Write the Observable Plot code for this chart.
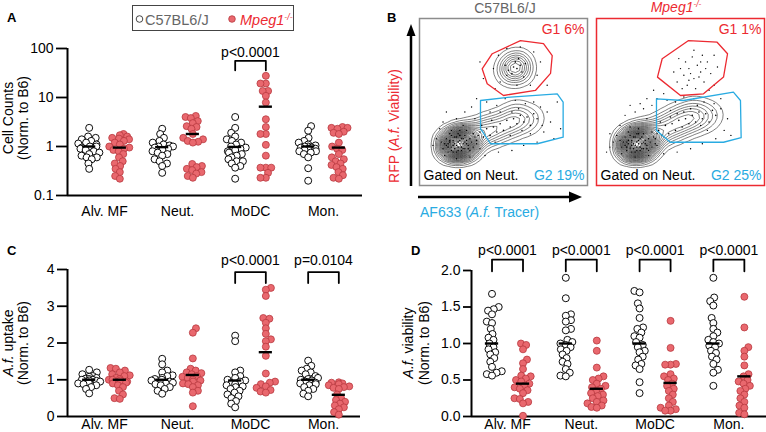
<!DOCTYPE html>
<html><head><meta charset="utf-8">
<script src="https://cdn.jsdelivr.net/npm/d3@7"></script>
<script src="https://cdn.jsdelivr.net/npm/@observablehq/plot@0.6"></script>
<style>
body{margin:0;background:#fff;}
#fig{position:relative;width:766px;height:432px;overflow:hidden;background:#fff;font-family:"Liberation Sans",Arial,Helvetica,sans-serif;}
#fig svg{position:absolute;overflow:visible;}
[aria-label="y-axis tick"]{stroke-width:1.8px;}
g[aria-label="y-axis"] .tick line{stroke-width:1.8px;}
</style></head>
<body><div id="fig"></div>
<script>
// ---------------- DATA ----------------
const cellTypes = ["Alv. MF", "Neut.", "MoDC", "Mon."];
const genotypes = ["C57BL6/J", "Mpeg1-/-"];

// Panel A: cell counts normalised to B6 (log scale)
const countsTicks = [0.1, 1, 10, 100];
const countsB6 = [
  [2.4,1.6,1.5,1.4,1.3,1.2,1.15,1.1,1.0,1.0,0.95,0.9,0.85,0.8,0.75,0.7,0.65,0.6,0.6,0.55,0.45,0.35],
  [2.3,1.8,1.5,1.3,1.2,1.1,1.05,1.0,1.0,0.95,0.9,0.85,0.8,0.75,0.7,0.65,0.55,0.5,0.45,0.4,0.29],
  [4.0,2.4,1.9,1.6,1.4,1.3,1.2,1.1,1.0,0.95,0.9,0.85,0.8,0.75,0.7,0.65,0.6,0.55,0.5,0.5,0.45,0.4,0.37,0.22],
  [2.6,2.1,1.5,1.3,1.2,1.1,1.05,1.0,1.0,0.95,0.95,0.9,0.9,0.85,0.8,0.8,0.75,0.7,0.6,0.36,0.2]
];
const countsMpeg = [
  [1.8,1.7,1.6,1.5,1.45,1.4,1.3,1.2,1.1,1.0,0.95,0.9,0.85,0.8,0.7,0.6,0.5,0.45,0.4,0.35,0.3,0.25,0.22],
  [4.2,4.0,3.8,3.3,3.0,2.6,2.5,2.3,1.8,1.5,1.4,1.3,1.25,1.2,0.44,0.4,0.38,0.35,0.33,0.3,0.28,0.25,0.23],
  [27.7,19.3,19.3,13.6,13.6,10.8,7.9,3.6,2.5,1.8,1.8,1.08,0.65,0.37,0.37,0.37,0.29,0.23,0.23],
  [2.5,2.4,2.4,2.3,2.0,1.9,1.8,1.2,1.0,0.9,0.85,0.7,0.6,0.55,0.5,0.45,0.42,0.38,0.35,0.3,0.26,0.23,0.22]
];
const countsMeanB6 = [1.0, 0.97, 0.98, 1.0];
const countsMeanMpeg = [0.95, 1.8, 6.5, 0.95];
const countsSigCats = [2];
const countsSigLabels = ["p<0.0001"];

// Panel C: A.f. uptake normalised to B6
const uptakeTicks = [0, 1, 2, 3, 4];
const uptakeB6 = [
  [1.27,1.2,1.15,1.1,1.08,1.05,1.03,1.02,1.0,1.0,0.98,0.97,0.95,0.93,0.9,0.88,0.85,0.8,0.75,0.63],
  [1.57,1.42,1.25,1.2,1.12,1.1,1.05,1.02,1.0,0.98,0.95,0.92,0.9,0.88,0.85,0.8,0.75,0.7,0.62],
  [2.2,2.05,1.25,1.2,1.1,1.05,1.0,0.98,0.95,0.9,0.88,0.85,0.82,0.8,0.75,0.7,0.65,0.6,0.55,0.5,0.42,0.35,0.25],
  [1.52,1.38,1.3,1.25,1.2,1.15,1.1,1.05,1.02,1.0,0.98,0.95,0.92,0.9,0.88,0.85,0.8,0.75,0.7,0.62,0.55]
];
const uptakeMpeg = [
  [1.32,1.3,1.25,1.2,1.15,1.12,1.1,1.05,1.02,1.0,1.0,0.98,0.95,0.92,0.9,0.85,0.8,0.7,0.6,0.5,0.48],
  [2.4,2.28,1.58,1.3,1.25,1.2,1.18,1.15,1.1,1.08,1.05,1.0,0.98,0.95,0.9,0.88,0.85,0.8,0.7,0.65,0.28],
  [3.5,3.45,3.28,2.68,2.66,2.55,2.4,2.25,2.1,2.05,1.9,1.65,1.17,0.95,0.92,0.88,0.82,0.78,0.72,0.68,0.65],
  [0.93,0.92,0.9,0.88,0.85,0.82,0.8,0.78,0.75,0.6,0.5,0.45,0.4,0.35,0.3,0.25,0.2,0.12,0.05]
];
const uptakeMeanB6 = [1.0, 1.0, 0.98, 1.0];
const uptakeMeanMpeg = [1.0, 1.13, 1.75, 0.59];
const uptakeSigCats = [2, 3];
const uptakeSigLabels = ["p<0.0001", "p=0.0104"];

// Panel D: A.f. viability normalised to B6
const viabTicks = [0, 0.5, 1, 1.5, 2];
const viabB6 = [
  [1.68,1.5,1.47,1.45,1.4,1.3,1.28,1.2,1.13,1.08,1.05,1.0,0.95,0.92,0.88,0.85,0.8,0.75,0.68,0.62,0.6,0.58,0.56],
  [1.9,1.62,1.4,1.38,1.32,1.3,1.2,1.18,1.05,1.02,1.0,0.98,0.95,0.92,0.9,0.85,0.8,0.75,0.72,0.65,0.6,0.56,0.55],
  [1.72,1.7,1.55,1.48,1.35,1.22,1.2,1.15,1.1,1.08,1.02,0.98,0.95,0.9,0.88,0.82,0.78,0.72,0.7,0.65,0.47,0.32],
  [1.9,1.63,1.58,1.52,1.35,1.28,1.2,1.15,1.1,1.05,1.02,1.0,0.97,0.95,0.9,0.87,0.82,0.78,0.72,0.64,0.6,0.42]
];
const viabMpeg = [
  [1.0,0.98,0.92,0.78,0.73,0.65,0.56,0.55,0.52,0.5,0.48,0.45,0.42,0.4,0.38,0.36,0.32,0.25,0.24,0.2,0.18,0.01],
  [1.04,0.9,0.67,0.55,0.52,0.5,0.45,0.42,0.4,0.38,0.35,0.32,0.3,0.28,0.25,0.22,0.2,0.18,0.15,0.13,0.12],
  [1.31,0.94,0.72,0.71,0.71,0.58,0.55,0.52,0.5,0.45,0.42,0.38,0.35,0.3,0.25,0.2,0.15,0.12,0.1,0.08,0.08],
  [1.64,1.22,0.95,0.9,0.82,0.7,0.58,0.55,0.5,0.48,0.45,0.42,0.38,0.35,0.3,0.25,0.2,0.15,0.12,0.05,0.03]
];
const viabMeanB6 = [1.0, 1.0, 1.0, 1.0];
const viabMeanMpeg = [0.45, 0.38, 0.46, 0.55];
const viabSigCats = [0, 1, 2, 3];
const viabSigLabels = ["p<0.0001", "p<0.0001", "p<0.0001", "p<0.0001"];

// Panel B: flow events (AF633 %, RFP %, event count)
const flowB6Main = [
  [20,24,9],[23,26,9],[21,22,8],[25,23,8],[18,26,6],[26,28,6],[28,25,6],[24,30,4],[17,23,5],[30,28,4],[32,31,3],[29,22,4],
  [34,27,2],[36,32,2],[38,29,2],[40,34,2],[42,30,2],[44,35,2],[46,32,2],[48,37,2],[50,33,2],[37,36,1],[43,39,1],
  [52,39,2],[54,35,2],[56,40,2],[58,37,2],[60,42,1],[62,38,2],[64,41,1],[66,36,1],[68,43,1],[59,46,1],[55,44,1],[70,40,1],
  [53,69,2],[56,71,3],[58,70,3],[60,72,2],[57,74,2],[55,67,2],[61,68,1],[51,72,1],[59,76,1],[63,73,1],[62,65,1],[52,66,1]
];
const flowB6Specks = [
  [12,34],[10,28],[14,38],[16,44],[22,40],[27,44],[31,47],[34,52],[40,50],[46,48],[51,52],[57,51],[63,49],[68,50],
  [72,47],[76,44],[78,38],[74,32],[70,26],[62,24],[55,21],[47,20],[39,18],[30,17],[22,16],[15,18],[8,24],[42,44],
  [48,44],[66,31],[73,36],[80,28],[45,58],[48,62],[44,70],[47,78],[52,82],[60,83],[68,80],[72,74],[70,66],[66,60],
  [58,60],[76,60],[38,64],[36,74],[82,50],[84,34],[26,36],[19,33],[33,40],[54,30],[61,33],[45,26],[36,22],
  [14,22],[15,25],[16,28],[17,20],[19,21],[19,30],[20,27],[21,25],[22,29],[22,20],[23,23],[24,27],[25,21],[26,25],
  [27,22],[27,30],[28,27],[29,24],[30,21],[31,26],[32,23],[33,29],[34,25],[35,30],[13,26],[18,31],[24,33],[28,33],
  [16,24],[18,27],[19,23],[20,26],[21,29],[22,24],[23,21],[24,25],[25,28],[26,22],[27,26],[20,20],[17,25],[23,31]
];
const flowKOMain = [
  [21,24,9],[24,26,9],[22,22,8],[26,23,8],[19,27,6],[27,29,6],[29,25,6],[25,31,4],[18,23,5],[31,28,4],[33,32,3],[30,22,4],
  [35,28,2],[37,33,2],[39,30,2],[41,36,2],[43,31,2],[45,37,2],[47,33,2],[49,39,2],[51,35,2],[38,38,1],[44,41,1],
  [53,40,2],[55,37,2],[57,42,2],[59,38,2],[61,44,1],[63,40,2],[65,43,1],[67,38,1],[69,45,1],[60,48,1],[56,46,1],
  [71,42,1],[52,44,1],[48,43,1]
];
const flowKOSpecks = [
  [12,30],[10,26],[14,36],[17,42],[23,44],[28,46],[33,48],[36,52],[42,51],[47,50],[52,53],[58,52],[64,50],[70,49],
  [74,46],[78,40],[76,33],[71,28],[63,25],[56,22],[48,20],[40,19],[31,18],[23,17],[15,19],[8,23],[44,45],[66,33],
  [80,30],[30,40],[20,35],[36,24],[62,36],[74,52],[30,52],[26,49],[20,48],[40,55],[34,57],[8,31],[6,20],
  [15,23],[16,26],[17,29],[18,21],[20,22],[20,30],[21,27],[22,25],[23,29],[23,20],[24,23],[25,27],[26,21],[27,25],
  [28,22],[28,31],[29,27],[30,24],[31,21],[32,26],[33,23],[34,29],[35,25],[36,31],[14,27],[19,32],[25,34],
  [17,24],[19,25],[20,23],[21,26],[22,29],[23,24],[24,21],[25,25],[26,28],[27,22],[28,26],[21,20],[18,26],[24,31],
  [48,62],[52,66],[55,70],[58,64],[60,72],[62,68],[64,62],[66,74],[57,77],[53,74],[50,70],[68,67],[70,60],[63,78],
  [59,58],[54,60],[46,68],[72,71],[61,65],[56,67],[65,70],[67,57],[51,58],[58,81],[62,74],[49,76],[70,78],[55,63]
];
const gateG1B6 = [[37.3,69.9],[43.3,78.9],[60.1,86.8],[73.8,85.0],[79.0,77.8],[78.0,67.1],[69.0,56.9],[50.0,53.9],[40.3,60.9]];
const gateG2B6 = [[36.3,50.9],[54.2,52.9],[82.0,54.9],[85.5,49.9],[85.5,28.9],[70.1,25.0],[42.3,25.0],[36.3,34.0]];
const gateG1KO = [[39.1,75.9],[54.8,86.8],[71.8,85.8],[78.0,78.9],[75.6,64.9],[63.7,54.9],[50.0,53.9],[36.3,64.9]];
const gateG2KO = [[35.7,51.9],[51.8,50.9],[81.5,55.9],[85.7,50.9],[86.1,28.6],[75.6,25.9],[44.0,25.9],[35.7,32.9]];
const gateLabelsB6 = ["G1 6%", "G2 19%"];
const gateLabelsKO = ["G1 1%", "G2 25%"];

// ---------------- STYLE ----------------
const FONT = "'Liberation Sans', Arial, Helvetica, sans-serif";
const RED_FILL = "#e9686e", RED_STROKE = "#b8383f";
const GATE_RED = "#ec2a31", GATE_BLUE = "#29abe2";
const GENO_OFFSET = 0.21;
const fig = document.getElementById("fig");

// compact beeswarm offsets (pixels) so that overlapping dots spread sideways
function swarm(vals, ypx, diam, maxOff) {
  const idx = d3.range(vals.length).sort((a, b) => vals[a] - vals[b]);
  const placed = [], off = new Array(vals.length);
  let flip = 1;
  for (const i of idx) {
    const y = ypx(vals[i]);
    const cands = [0];
    for (const p of placed) {
      const dy = Math.abs(p.y - y);
      if (dy < diam) { const dx = Math.sqrt(diam * diam - dy * dy); cands.push(p.x + dx, p.x - dx); }
    }
    cands.sort((a, b) => Math.abs(a) - Math.abs(b) || flip * (b - a));
    let best = null;
    for (const c of cands) {
      if (Math.abs(c) > maxOff) continue;
      if (placed.every(p => (p.x - c) ** 2 + (p.y - y) ** 2 >= diam * diam - 1e-6)) { best = c; break; }
    }
    if (best === null) best = flip * maxOff * ((placed.length % 3) / 3);
    flip = -flip;
    placed.push({x: best, y}); off[i] = best;
  }
  return off;
}

function place(el, left, top) {
  el.style.position = "absolute"; el.style.left = left + "px"; el.style.top = top + "px";
  fig.appendChild(el);
}

function dotPanel(c) {
  const frameW = c.width - c.mL - c.mR;
  const ppu = frameW / (c.xDomain[1] - c.xDomain[0]);
  const yS = (c.yType === "log" ? d3.scaleLog() : d3.scaleLinear()).domain(c.yDomain).range([c.height - c.mB, c.mT]);
  const rows = [];
  [c.b6, c.mpeg].forEach((series, g) => series.forEach((vals, k) => {
    const offs = swarm(vals, yS, 5.4, 11);
    vals.forEach((v, i) => rows.push({g, v, x: k + 1 + (g ? GENO_OFFSET : -GENO_OFFSET) + offs[i] / ppu}));
  }));
  const means = [];
  [c.meanB6, c.meanMpeg].forEach((arr, g) => arr.forEach((m, k) => {
    const cx = k + 1 + (g ? GENO_OFFSET : -GENO_OFFSET);
    means.push({x1: cx - 0.09, x2: cx + 0.09, y: m});
  }));
  const brackets = [];
  c.sigCats.forEach((k, j) => {
    const a = k + 1 - GENO_OFFSET, b = k + 1 + GENO_OFFSET;
    brackets.push({j, x: a, y: c.sigBottom}, {j, x: a, y: c.sigTop}, {j, x: b, y: c.sigTop}, {j, x: b, y: c.sigBottom});
  });
  const sigRows = c.sigCats.map((k, j) => ({x: k + 1, y: c.sigText, label: c.sigLabels[j]}));
  const p = Plot.plot({
    width: c.width, height: c.height,
    marginLeft: c.mL, marginRight: c.mR, marginTop: c.mT, marginBottom: c.mB,
    style: {fontFamily: FONT, fontSize: "14px", background: "transparent", color: "black", overflow: "visible"},
    x: {domain: c.xDomain, ticks: [1, 2, 3, 4], tickFormat: d => cellTypes[d - 1], tickSize: 0, tickPadding: c.xPad, label: null},
    y: {type: c.yType, domain: c.yDomain, ticks: c.yTicks, tickFormat: c.yFormat, tickSize: c.tickSize, tickPadding: 3, label: null},
    marks: [
      Plot.ruleX([c.xDomain[0]], {stroke: "black", strokeWidth: 2}),
      Plot.ruleY([c.yDomain[0]], {stroke: "black", strokeWidth: 2}),
      Plot.dot(rows.filter(d => d.g === 0), {x: "x", y: "v", r: 3.5, fill: "white", stroke: "black", strokeWidth: 0.95}),
      Plot.dot(rows.filter(d => d.g === 1), {x: "x", y: "v", r: 3.5, fill: RED_FILL, stroke: RED_STROKE, strokeWidth: 0.8}),
      Plot.ruleY(means, {x1: "x1", x2: "x2", y: "y", stroke: "black", strokeWidth: 2.4}),
      Plot.line(brackets, {x: "x", y: "y", z: "j", stroke: "black", strokeWidth: 1.8}),
      Plot.text(sigRows, {x: "x", y: "y", text: "label", fontSize: 14, fill: "black"})
    ]
  });
  place(p, c.left, c.top);
}

// Panel A
dotPanel({b6: countsB6, mpeg: countsMpeg, meanB6: countsMeanB6, meanMpeg: countsMeanMpeg,
  sigCats: countsSigCats, sigLabels: countsSigLabels, sigText: 83, sigTop: 56, sigBottom: 36,
  yType: "log", yDomain: [0.1, 100], yTicks: countsTicks, yFormat: d => String(d),
  left: 0, top: 30, width: 370, height: 200, mL: 67, mR: 8, mT: 18, mB: 35,
  xDomain: [0.493, 4.534], tickSize: 11, xPad: 11});
// Panel C
dotPanel({b6: uptakeB6, mpeg: uptakeMpeg, meanB6: uptakeMeanB6, meanMpeg: uptakeMeanMpeg,
  sigCats: uptakeSigCats, sigLabels: uptakeSigLabels, sigText: 4.24, sigTop: 3.93, sigBottom: 3.63,
  yType: "linear", yDomain: [0, 4], yTicks: uptakeTicks, yFormat: d => String(d),
  left: 0, top: 240, width: 370, height: 192, mL: 67, mR: 10, mT: 29, mB: 16,
  xDomain: [0.493, 4.507], tickSize: 10, xPad: 3});
// Panel D
dotPanel({b6: viabB6, mpeg: viabMpeg, meanB6: viabMeanB6, meanMpeg: viabMeanMpeg,
  sigCats: viabSigCats, sigLabels: viabSigLabels, sigText: 2.28, sigTop: 2.15, sigBottom: 1.99,
  yType: "linear", yDomain: [0, 2], yTicks: viabTicks, yFormat: d => d.toFixed(1),
  left: 380, top: 240, width: 386, height: 192, mL: 91, mR: 0, mT: 30, mB: 16,
  xDomain: [0.512, 4.51], tickSize: 8, xPad: 3});

// Panel B flow plots
function flowPanel(c) {
  const ev = c.main.map(([u, v, n]) => ({u, v, n}));
  const closed = g => g.concat([g[0]]);
  const marks = [];
  if (Plot.density) marks.push(Plot.density(ev, {x: "u", y: "v", weight: "n", bandwidth: 6.5, thresholds: 30, stroke: "black", strokeWidth: 0.5}));
  marks.push(
    Plot.dot(c.main, {x: d => d[0], y: d => d[1], r: 0.8, fill: "black"}),
    Plot.dot(c.specks, {x: d => d[0], y: d => d[1], r: 0.7, fill: "black"}),
    Plot.line(closed(c.g1), {x: d => d[0], y: d => d[1], stroke: GATE_RED, strokeWidth: 1.3}),
    Plot.line(closed(c.g2), {x: d => d[0], y: d => d[1], stroke: GATE_BLUE, strokeWidth: 1.3}),
    Plot.frame({stroke: c.frame, strokeWidth: 1.5}),
    Plot.text([c.labels[0]], {text: d => d, frameAnchor: "top-right", lineAnchor: "middle", dx: -3, dy: 11, fill: GATE_RED, fontSize: 14}),
    Plot.text(["Gated on Neut."], {text: d => d, frameAnchor: "bottom-left", lineAnchor: "middle", dx: 4, dy: -10, fill: "black", fontSize: 14}),
    Plot.text([c.labels[1]], {text: d => d, frameAnchor: "bottom-right", lineAnchor: "middle", dx: -3, dy: -10, fill: GATE_BLUE, fontSize: 14})
  );
  const p = Plot.plot({
    width: 176, height: 175, margin: 4,
    style: {fontFamily: FONT, fontSize: "14px", background: "transparent", overflow: "visible"},
    x: {domain: [0, 100], axis: null}, y: {domain: [0, 100], axis: null},
    marks
  });
  place(p, c.left, 14);
}
flowPanel({left: 415, main: flowB6Main, specks: flowB6Specks, g1: gateG1B6, g2: gateG2B6, labels: gateLabelsB6, frame: "#8c8c8c"});
flowPanel({left: 592, main: flowKOMain, specks: flowKOSpecks, g1: gateG1KO, g2: gateG2KO, labels: gateLabelsKO, frame: GATE_RED});

// ---------------- ANNOTATION OVERLAY ----------------
const ov = d3.select(fig).append("svg").attr("width", 766).attr("height", 432)
  .style("left", "0px").style("top", "0px").style("font-family", FONT);

function txt(x, y, parts, o = {}) {
  const t = ov.append("text").attr("font-size", o.size || 14).attr("fill", o.fill || "black")
    .attr("text-anchor", o.anchor || "start");
  if (o.rotate) t.attr("transform", `translate(${x},${y}) rotate(-90)`); else t.attr("x", x).attr("y", y);
  if (o.weight) t.attr("font-weight", o.weight);
  for (const p of parts) {
    const s = t.append("tspan").text(p.t);
    if (p.i) s.attr("font-style", "italic");
    if (p.sup) s.attr("baseline-shift", "super").attr("font-size", (o.size || 14) * 0.6);
  }
  return t;
}

// panel letters
txt(7, 21.5, [{t: "A"}], {weight: "bold", size: 13});
txt(387, 21.5, [{t: "B"}], {weight: "bold", size: 13});
txt(7, 254.5, [{t: "C"}], {weight: "bold", size: 13});
txt(411, 254.5, [{t: "D"}], {weight: "bold", size: 13});

// y titles
txt(13, 118, [{t: "Cell Counts"}], {rotate: true, anchor: "middle"});
txt(28, 118, [{t: "(Norm. to B6)"}], {rotate: true, anchor: "middle"});
txt(13, 343, [{t: "A.f.", i: true}, {t: " uptake"}], {rotate: true, anchor: "middle"});
txt(28, 343, [{t: "(Norm. to B6)"}], {rotate: true, anchor: "middle"});
txt(413, 343, [{t: "A.f.", i: true}, {t: " viability"}], {rotate: true, anchor: "middle"});
txt(429, 343, [{t: "(Norm. to B6)"}], {rotate: true, anchor: "middle"});

// legend
ov.append("rect").attr("x", 132.5).attr("y", 5.5).attr("width", 161).attr("height", 25).attr("fill", "white").attr("stroke", "#444").attr("stroke-width", 1);
ov.append("circle").attr("cx", 139.5).attr("cy", 19).attr("r", 3.3).attr("fill", "white").attr("stroke", "#333").attr("stroke-width", 0.9);
txt(145, 24.5, [{t: genotypes[0]}], {fill: "#666", size: 14.5});
ov.append("circle").attr("cx", 232).attr("cy", 19).attr("r", 3.3).attr("fill", RED_FILL).attr("stroke", RED_STROKE).attr("stroke-width", 0.8);
txt(240, 24.5, [{t: "Mpeg1", i: true}, {t: "-/-", i: true, sup: true}], {fill: GATE_RED, size: 14.5});

// panel B titles
txt(505, 13, [{t: genotypes[0]}], {fill: "#666", anchor: "middle"});
txt(676, 12, [{t: "Mpeg1", i: true}, {t: "-/-", i: true, sup: true}], {fill: GATE_RED, anchor: "middle"});

// panel B axes (arrows)
ov.append("line").attr("x1", 411).attr("y1", 186).attr("x2", 411).attr("y2", 34).attr("stroke", "black").attr("stroke-width", 2.5);
ov.append("path").attr("d", "M411,24 L406.5,36 L415.5,36 Z").attr("fill", "black");
ov.append("line").attr("x1", 418).attr("y1", 197).attr("x2", 571).attr("y2", 197).attr("stroke", "black").attr("stroke-width", 2.5);
ov.append("path").attr("d", "M582,197 L569,191.5 L569,202.5 Z").attr("fill", "black");
txt(399, 126, [{t: "RFP ("}, {t: "A.f.", i: true}, {t: " Viability)"}], {rotate: true, anchor: "middle", fill: GATE_RED});
txt(420, 216.5, [{t: "AF633 ("}, {t: "A.f.", i: true}, {t: " Tracer)"}], {fill: GATE_BLUE});
</script></body></html>
